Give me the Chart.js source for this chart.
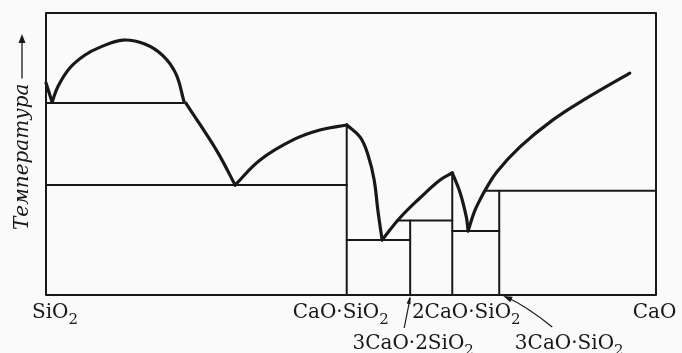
<!DOCTYPE html>
<html><head><meta charset="utf-8">
<script src="https://cdn.jsdelivr.net/npm/chart.js@4.4.1/dist/chart.umd.min.js"></script>
<style>html,body{margin:0;padding:0;background:#fafafa;}canvas{display:block;}</style>
</head><body>
<canvas id="c" width="682" height="353"></canvas>
<script>
// ---- DATA (x: mol % CaO, y: temperature in arbitrary units, 0..100) ----
const compoundNames = ['SiO2', 'CaO·SiO2', '3CaO·2SiO2', '2CaO·SiO2', '3CaO·SiO2', 'CaO'];
const compoundX     = [0, 49.3, 59.7, 66.6, 74.3, 100];
const compoundTop   = [100, 60.3, 26.4, 43.3, 37.0, 100];

const isothermT    = [68.1, 39.0, 19.5, 26.4, 22.7, 37.0];
const isothermFrom = [0, 0, 49.3, 57.5, 66.6, 71.9];
const isothermTo   = [22.6, 49.3, 59.7, 66.6, 74.3, 100];

const liquidus1 = [[0, 75.2], [1.0, 68.4]];
const liquidus2 = [[1.0, 68.4], [2.0, 74.1], [3.9, 80.5], [6.4, 85.1], [8.9, 87.9], [12.6, 90.4], [16.2, 89.0], [19.2, 84.8], [21.3, 78.4], [22.6, 68.8]];
const liquidus3 = [[22.9, 68.1], [25.3, 60.3], [28.2, 50.4], [31.0, 39.0]];
const liquidus4 = [[31.0, 39.0], [35.1, 47.9], [40.5, 55.0], [44.9, 58.5], [49.3, 60.3]];
const liquidus5 = [[49.3, 60.3], [51.5, 56.0], [52.8, 49.6], [53.8, 40.8], [54.4, 30.1], [55.1, 19.5]];
const liquidus6 = [[55.1, 19.5], [58.0, 27.3], [61.3, 34.4], [64.6, 40.8], [66.6, 43.3]];
const liquidus7 = [[66.6, 43.3], [67.9, 36.2], [68.9, 27.7], [69.2, 22.7]];
const liquidus8 = [[69.2, 22.7], [70.2, 29.4], [71.2, 34.0], [72.0, 37.2], [73.9, 43.6], [77.7, 52.5], [83.1, 62.1], [88.7, 69.9], [95.7, 78.7]];

const yTitle = 'Температура';

// ---- STYLE ----
const ink = '#181818';
const labelRow = [0, 0, 1, 0, 1, 0];
const labelDx  = [9, -6, 3, 14, 70, -1.5];

const pts = a => a.map(p => ({x: p[0], y: p[1]}));
const datasets = [];
function lineDs(data, w, smooth) {
  datasets.push({data: data, showLine: true, borderColor: ink, borderWidth: w, pointRadius: 0,
    borderCapStyle: 'round', borderJoinStyle: 'round', clip: false,
    tension: smooth ? 0.4 : 0});
}
// frame
lineDs(pts([[0, 0], [0, 100], [100, 100], [100, 0], [0, 0]]), 2, false);
// compound verticals (inner)
compoundX.forEach((x, i) => { if (i > 0 && i < compoundX.length - 1) lineDs(pts([[x, 0], [x, compoundTop[i]]]), 2, false); });
// isotherms
isothermT.forEach((t, i) => lineDs(pts([[isothermFrom[i], t], [isothermTo[i], t]]), 2, false));
// liquidus
[liquidus1, liquidus2, liquidus3, liquidus4, liquidus5, liquidus6, liquidus7, liquidus8].forEach(b => lineDs(pts(b), 3.2, true));

function drawChem(ctx, text, cx, baseY) {
  const main = '20px "DejaVu Serif"', sub = '15px "DejaVu Serif"';
  const parts = [];
  for (let i = 0; i < text.length; i++) {
    const ch = text[i];
    const isSub = /\d/.test(ch) && i > 0 && /[A-Za-z]/.test(text[i - 1]);
    parts.push([ch, isSub]);
  }
  let w = 0;
  parts.forEach(p => { ctx.font = p[1] ? sub : main; w += ctx.measureText(p[0]).width; });
  let x = cx - w / 2;
  ctx.textAlign = 'left'; ctx.textBaseline = 'alphabetic';
  parts.forEach(p => {
    ctx.font = p[1] ? sub : main;
    ctx.fillText(p[0], x, baseY + (p[1] ? 6 : 0));
    x += ctx.measureText(p[0]).width;
  });
}
function arrowHead(ctx, x, y, dx, dy, len, half) {
  const L = Math.hypot(dx, dy), ux = dx / L, uy = dy / L;
  ctx.beginPath();
  ctx.moveTo(x, y);
  ctx.lineTo(x - ux * len - uy * half, y - uy * len + ux * half);
  ctx.lineTo(x - ux * len + uy * half, y - uy * len - ux * half);
  ctx.closePath(); ctx.fill();
}

const annot = {
  id: 'annot',
  afterDraw(chart) {
    const ctx = chart.ctx, xs = chart.scales.x, a = chart.chartArea;
    ctx.save();
    ctx.fillStyle = ink; ctx.strokeStyle = ink;
    compoundNames.forEach((n, i) => {
      const cx = xs.getPixelForValue(compoundX[i]) + labelDx[i];
      drawChem(ctx, n, cx, a.bottom + (labelRow[i] ? 54 : 23));
    });
    const p1 = xs.getPixelForValue(compoundX[2]);
    ctx.lineWidth = 1.2;
    ctx.beginPath(); ctx.moveTo(p1 - 6, a.bottom + 33); ctx.lineTo(p1, a.bottom + 3); ctx.stroke();
    arrowHead(ctx, p1, a.bottom + 1, 6, -30, 8, 2);
    const p2 = xs.getPixelForValue(compoundX[4]) + 4;
    ctx.beginPath(); ctx.moveTo(p2 + 49, a.bottom + 32);
    ctx.quadraticCurveTo(p2 + 23, a.bottom + 11, p2 + 3, a.bottom + 2); ctx.stroke();
    arrowHead(ctx, p2, a.bottom + 1, -23, -10, 9, 3);
    ctx.translate(28, 230); ctx.rotate(-Math.PI / 2);
    ctx.font = 'italic 20px "DejaVu Serif"'; ctx.textAlign = 'left'; ctx.textBaseline = 'alphabetic';
    ctx.fillText(yTitle, 0, 0);
    const tw = ctx.measureText(yTitle).width;
    ctx.lineWidth = 1.3;
    ctx.beginPath(); ctx.moveTo(tw + 5, -6); ctx.lineTo(190, -6); ctx.stroke();
    arrowHead(ctx, 196, -6, 1, 0, 9, 3.5);
    ctx.restore();
  }
};

new Chart(document.getElementById('c'), {
  type: 'scatter',
  data: {datasets: datasets},
  options: {
    responsive: false, animation: false, devicePixelRatio: 1,
    layout: {padding: {left: 46, top: 13, right: 26, bottom: 58}},
    scales: {
      x: {type: 'linear', min: 0, max: 100, display: false},
      y: {type: 'linear', min: 0, max: 100, display: false}
    },
    plugins: {legend: {display: false}, tooltip: {enabled: false}}
  },
  plugins: [annot]
});
</script>
</body></html>
